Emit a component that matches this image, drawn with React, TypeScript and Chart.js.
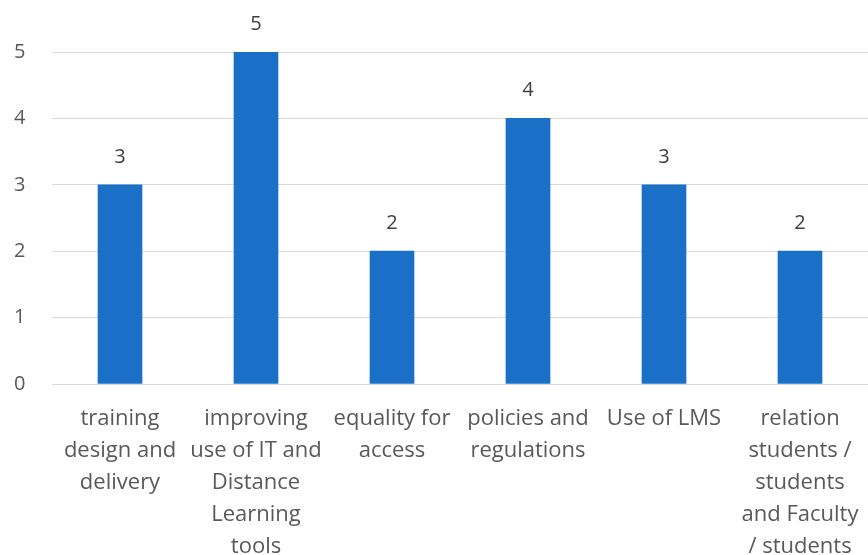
import React, { useEffect, useRef } from "react";
import { Chart, registerables } from "chart.js";

Chart.register(...registerables);

const categories: string[][] = [
  ["training", "design and", "delivery"],
  ["improving", "use of IT and", "Distance", "Learning", "tools"],
  ["equality for", "access"],
  ["policies and", "regulations"],
  ["Use of LMS"],
  ["relation", "students /", "students", "and Faculty", "/ students"],
];
const values: number[] = [3, 5, 2, 4, 3, 2];
const yTicks: number[] = [0, 1, 2, 3, 4, 5];

const FONT = "'Open Sans', sans-serif";

const valueLabels = {
  id: "valueLabels",
  afterDatasetsDraw(chart: any) {
    const ctx = chart.ctx;
    const meta = chart.getDatasetMeta(0);
    ctx.save();
    ctx.font = `20px ${FONT}`;
    ctx.fillStyle = "#404040";
    ctx.textAlign = "center";
    ctx.textBaseline = "middle";
    meta.data.forEach((bar: any, i: number) => {
      ctx.fillText(String(values[i]), bar.x, bar.y - 28);
    });
    ctx.restore();
  },
};

export default function App() {
  const ref = useRef<HTMLCanvasElement | null>(null);
  useEffect(() => {
    document.body.style.margin = "0";
    const chart = new Chart(ref.current!, {
      type: "bar",
      data: {
        labels: categories,
        datasets: [
          {
            data: values,
            backgroundColor: "#1a70c7",
            barThickness: 44,
          },
        ],
      },
      options: {
        animation: false,
        responsive: false,
        layout: { padding: { top: 52, left: 14, right: 0, bottom: 0 } },
        plugins: { legend: { display: false }, tooltip: { enabled: false } },
        scales: {
          x: {
            grid: { display: false },
            border: { display: false },
            ticks: {
              color: "#595959",
              font: { family: FONT, size: 22, lineHeight: "32px" },
              maxRotation: 0,
              autoSkip: false,
              padding: 11,
            },
            afterFit(scale: any) {
              scale.height = 171;
              scale.paddingLeft = 0;
              scale.paddingRight = 0;
            },
          },
          y: {
            min: 0,
            max: 5,
            afterBuildTicks(scale: any) {
              scale.ticks = yTicks.map((v) => ({ value: v }));
            },
            grid: { color: "#d9d9d9", lineWidth: 1, drawTicks: false },
            border: { display: false },
            ticks: {
              color: "#595959",
              font: { family: FONT, size: 20 },
              crossAlign: "far",
              padding: 0,
            },
            afterFit(scale: any) {
              scale.width = 38;
            },
          },
        },
      },
      plugins: [valueLabels],
    });
    return () => chart.destroy();
  }, []);
  return <canvas ref={ref} width={868} height={555} style={{ display: "block" }} />;
}
